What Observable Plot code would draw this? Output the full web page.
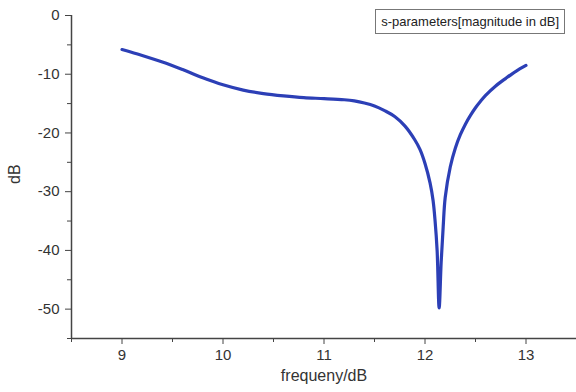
<!DOCTYPE html>
<html>
<head>
<meta charset="utf-8">
<script src="https://cdn.jsdelivr.net/npm/d3@7"></script>
<script src="https://cdn.jsdelivr.net/npm/@observablehq/plot@0.6"></script>
<style>
  html, body { margin: 0; padding: 0; background: #fff; }
  #wrap { position: relative; width: 576px; height: 392px; font-family: "Liberation Sans", Arial, sans-serif; }
  #legend { position: absolute; right: 11px; top: 9px; height: 23px; padding: 0 5px; border: 1px solid #777;
            font-size: 13px; line-height: 23px; color: #222; background: #fff; white-space: nowrap; }
</style>
</head>
<body>
<div id="wrap"><div id="legend"></div></div>
<script>
const freq = [9.0, 9.2, 9.4, 9.6, 9.8, 10.0, 10.2, 10.4, 10.6, 10.8, 11.0, 11.2, 11.3, 11.4, 11.5, 11.6, 11.7, 11.8, 11.9, 11.95, 12.0, 12.05, 12.08, 12.1, 12.12, 12.14, 12.16, 12.18, 12.2, 12.25, 12.3, 12.35, 12.4, 12.45, 12.5, 12.55, 12.6, 12.7, 12.8, 12.9, 13.0];
const magnitude = [-5.8, -6.8, -7.9, -9.2, -10.6, -11.8, -12.7, -13.3, -13.7, -14.0, -14.15, -14.35, -14.55, -14.9, -15.4, -16.2, -17.2, -18.8, -21.2, -22.8, -25.2, -28.5, -31.5, -35, -40, -49.8, -42, -36, -31, -25.8, -22.6, -20.3, -18.5, -17.0, -15.7, -14.6, -13.6, -12.0, -10.7, -9.5, -8.5];
const xTicks = [9, 10, 11, 12, 13];
const xMinor = [8.5, 9.5, 10.5, 11.5, 12.5, 13.5];
const yTicks = [0, -10, -20, -30, -40, -50];
const yMinor = [-5, -15, -25, -35, -45, -55];
const xTitle = "frequeny/dB";
const yTitle = "dB";
const legendText = "s-parameters[magnitude in dB]";

const data = freq.map((f, i) => ({f, db: magnitude[i]}));
document.getElementById("legend").textContent = legendText;
const fmt = d => String(d);

const chart = Plot.plot({
  width: 576,
  height: 392,
  marginTop: 15,
  marginBottom: 54,
  marginLeft: 71,
  marginRight: 0,
  style: {fontFamily: "'Liberation Sans', Arial, sans-serif", color: "#333", background: "transparent"},
  x: {domain: [8.5, 13.5]},
  y: {domain: [-55, 0]},
  marks: [
    Plot.axisX({ticks: xTicks, tickFormat: fmt, tickSize: 6, tickPadding: 5, fontSize: 15, label: null, stroke: "#444"}),
    Plot.axisX({ticks: xMinor, tickSize: 4, text: null, label: null, stroke: "#444"}),
    Plot.axisY({ticks: yTicks, tickFormat: fmt, tickSize: 6, tickPadding: 6, fontSize: 15, label: null, stroke: "#444"}),
    Plot.axisY({ticks: yMinor, tickSize: 4, text: null, label: null, stroke: "#444"}),
    Plot.ruleX([8.5], {stroke: "#444", strokeWidth: 1.5}),
    Plot.ruleY([-55], {stroke: "#444", strokeWidth: 1.5}),
    Plot.text([xTitle], {frameAnchor: "bottom", dy: 42, fontSize: 16, fill: "#333"}),
    Plot.text([yTitle], {frameAnchor: "left", rotate: -90, dx: -57, dy: 7, fontSize: 16, fill: "#333"}),
    Plot.line(data, {x: "f", y: "db", stroke: "#2c3fb6", strokeWidth: 3.2, curve: "catmull-rom"})
  ]
});
document.getElementById("wrap").prepend(chart);
</script>
</body>
</html>
